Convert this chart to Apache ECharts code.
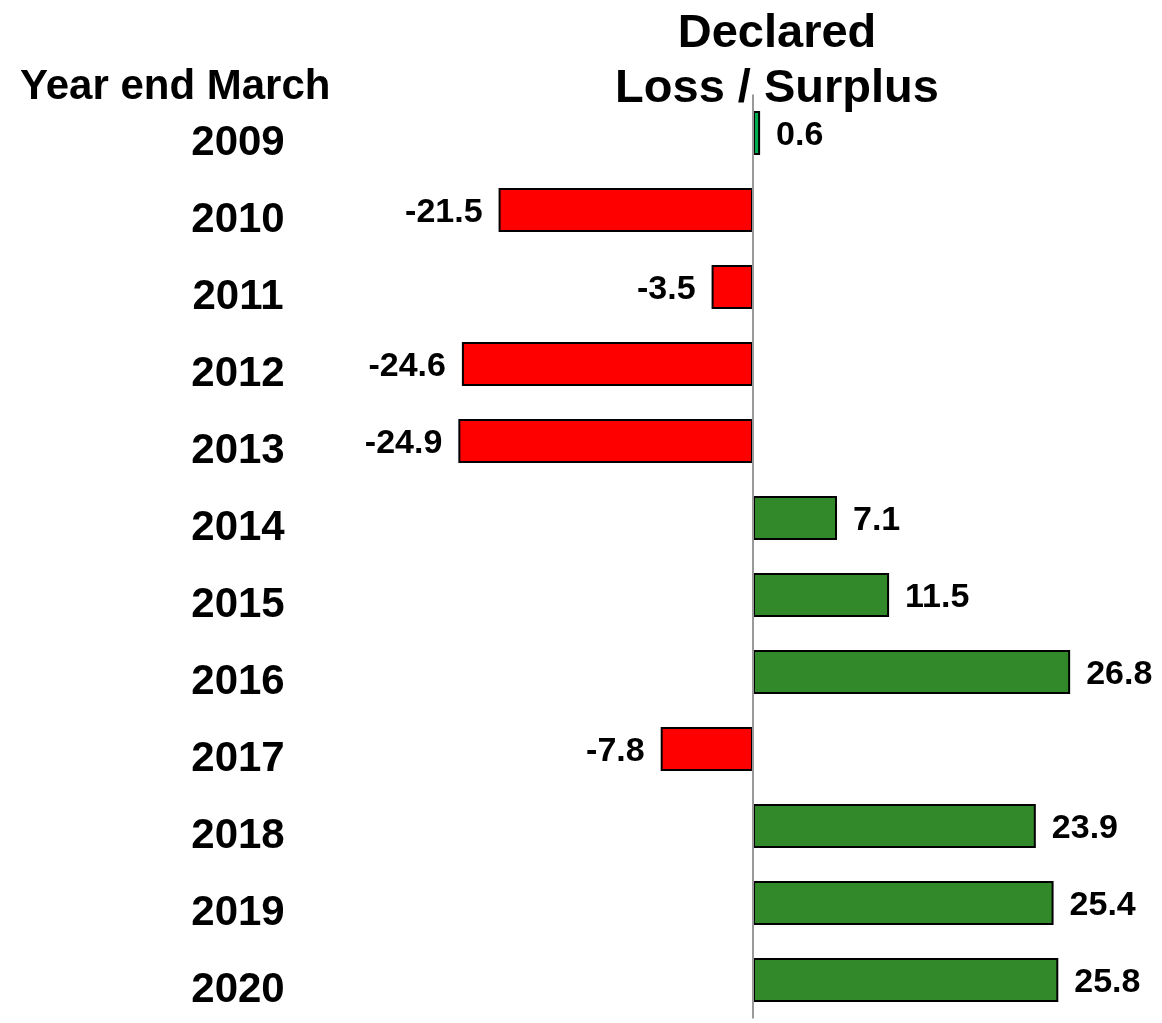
<!DOCTYPE html>
<html>
<head>
<meta charset="utf-8">
<script src="https://cdn.jsdelivr.net/npm/echarts@6/dist/echarts.min.js"></script>
<style>
html,body{margin:0;padding:0;background:#fff;}
#chart{width:1162px;height:1023px;}
</style>
</head>
<body>
<div id="chart"></div>
<script>
const years = ['2009','2010','2011','2012','2013','2014','2015','2016','2017','2018','2019','2020'];
const values = [0.6, -21.5, -3.5, -24.6, -24.9, 7.1, 11.5, 26.8, -7.8, 23.9, 25.4, 25.8];
const titleText = 'Declared\nLoss / Surplus';
const axisTitle = 'Year end March';

const FONT = '"Liberation Sans", Arial, Helvetica, sans-serif';
const RED = '#ff0000', GREEN = '#32892a', BRIGHT = '#00b050';

const data = values.map((v, i) => ({
  value: v,
  itemStyle: { color: v < 0 ? RED : (i === 0 ? BRIGHT : GREEN) },
  label: { position: v < 0 ? 'left' : 'right' }
}));

const chart = echarts.init(document.getElementById('chart'));
chart.setOption({
  animation: false,
  backgroundColor: '#fff',
  title: [
    { text: titleText, left: 772, top: 2, textAlign: 'center',
      textStyle: { fontFamily: FONT, fontSize: 47, fontWeight: 'bold', color: '#000', lineHeight: 55 } },
    { text: axisTitle, left: 15, top: 61,
      textStyle: { fontFamily: FONT, fontSize: 42, fontWeight: 'bold', color: '#000', lineHeight: 42 } }
  ],
  grid: { left: 398, right: 54, top: 94.5, bottom: 4.5 },
  xAxis: { type: 'value', min: -30, max: 30, show: false },
  yAxis: {
    type: 'category', data: years, inverse: true,
    axisLine: { show: false }, axisTick: { show: false }, splitLine: { show: false },
    axisLabel: { margin: 160, align: 'center', verticalAlign: 'top', lineHeight: 20,
      fontFamily: FONT, fontSize: 42, fontWeight: 'bold', color: '#000' }
  },
  series: [{
    type: 'bar', data: data, barWidth: 44,
    itemStyle: { borderColor: '#000', borderWidth: 2 },
    label: { show: true, distance: 16, offset: [0, 3], fontFamily: FONT, fontSize: 34, fontWeight: 'bold', color: '#000',
      formatter: p => p.value.toFixed(1) },
    markLine: {
      silent: true, symbol: 'none', label: { show: false },
      lineStyle: { color: '#999', width: 2, type: 'solid' },
      data: [{ xAxis: 0 }]
    }
  }]
});
</script>
</body>
</html>
